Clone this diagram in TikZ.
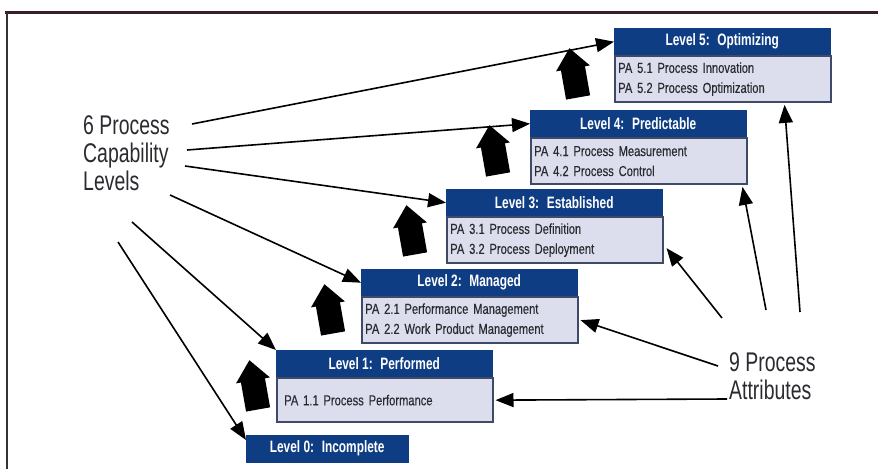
\documentclass[tikz,border=0pt]{standalone}
\usepackage{fontspec}
\setmainfont{Liberation Sans}
\newfontfamily\condfont[FakeStretch=0.72]{Liberation Sans}
\newfontfamily\bodyfont[FakeStretch=0.77,FakeBold=0.3]{Liberation Sans}
\usetikzlibrary{positioning,arrows.meta,shapes.arrows,calc}
\definecolor{cHead}{HTML}{0E3D84}
\definecolor{cBody}{HTML}{DCDEEE}
\definecolor{cEdge}{HTML}{3E4A68}
\definecolor{cFrame}{HTML}{3A1E2A}
\definecolor{cText}{HTML}{2A2A30}
\tikzset{
  level-head/.style={draw=cHead,fill=cHead,text=white,anchor=north west,
    minimum width=216pt,minimum height=27pt,inner sep=0pt,
    font=\condfont\fontsize{16.5}{18}\selectfont\bfseries},
  level-body/.style={draw=cEdge,line width=1.5pt,fill=cBody,anchor=north west,
    minimum width=216pt,minimum height=46pt,inner xsep=3pt,inner ysep=0pt,
    text width=209pt,align=left,text=cText,
    font=\bodyfont\fontsize{14.5}{20}\selectfont},
  big-label/.style={align=left,inner sep=0pt,anchor=north west,text=cText,
    font=\condfont\fontsize{27}{28}\selectfont},
  step-arrow/.style={shape=single arrow,fill=black,inner sep=12pt,
    single arrow head extend=5pt,single arrow tip angle=80,
    minimum height=50pt,rotate=100},
  arrow/.style={-{Triangle[length=18pt,width=14pt]},line width=1.6pt},
}
\begin{document}
\begin{tikzpicture}[x=1pt,y=1pt]
  \useasboundingbox (0,0) rectangle (878,469);
  \fill[white] (0,0) rectangle (878,469);
  % frame
  \draw[cFrame,line width=3pt] (5,456) -- (878,456);
  \draw[black!80,line width=2pt] (7,456) -- (7,0);

  % levels
  \node[level-head] (h5) at (614,441) {Level 5:~ Optimizing};
  \node[level-body] (b5) at (h5.south west)
    {PA 5.1 Process Innovation\\PA 5.2 Process Optimization};
  \node[level-head] (h4) at (530,359) {Level 4:~ Predictable};
  \node[level-body] (b4) at (h4.south west)
    {PA 4.1 Process Measurement\\PA 4.2 Process Control};
  \node[level-head] (h3) at (446,280) {Level 3:~ Established};
  \node[level-body] (b3) at (h3.south west)
    {PA 3.1 Process Definition\\PA 3.2 Process Deployment};
  \node[level-head] (h2) at (361,200) {Level 2:~ Managed};
  \node[level-body] (b2) at (h2.south west)
    {PA 2.1 Performance Management\\PA 2.2 Work Product Management};
  \node[level-head] (h1) at (276,119) {Level 1:~ Performed};
  \node[level-body,minimum height=44pt,inner xsep=7pt,text width=201pt] (b1)
    at (h1.south west) {PA 1.1 Process Performance};
  \node[level-head,minimum width=162pt] (h0) at (246,34) {Level 0:~ Incomplete};

  % steps between levels
  \node[step-arrow] (up1) at (255,77) {};
  \node[step-arrow] (up2) at (330,153) {};
  \node[step-arrow] (up3) at (412,232) {};
  \node[step-arrow] (up4) at (495,312) {};
  \node[step-arrow] (up5) at (575,389) {};

  % labels
  \node[big-label] (cap) at (83,354) {6 Process\\Capability\\Levels};
  \node[big-label] (attr) at (729,117) {9 Process\\Attributes};

  \coordinate (c5) at (192,345);
  \coordinate (c4) at (187,319);
  \coordinate (c3) at (185,303);
  \coordinate (c2) at (170,274);
  \coordinate (c1) at (132,247);
  \coordinate (c0) at (118,227);
  \draw[arrow] (c5) -- (h5.west);
  \draw[arrow] (c4) -- (h4.west);
  \draw[arrow] (c3) -- (h3.west);
  \draw[arrow] (c2) -- (h2.west);
  \draw[arrow] (c1) -- (h1.north west);
  \draw[arrow] (c0) -- ([yshift=-5pt]h0.north west);

  \coordinate (a1) at (727,70);
  \coordinate (a2) at (718,103);
  \coordinate (a3) at (722,151);
  \coordinate (a4) at (766,159);
  \coordinate (a5) at (800,157);
  \draw[arrow] (a1) -- ([xshift=2pt]b1.east);
  \draw[arrow] (a2) -- ([xshift=2pt]b2.east);
  \draw[arrow] (a3) -- ([xshift=3pt,yshift=-8pt]b3.east);
  \draw[arrow] (a4) -- ([xshift=-5pt,yshift=-2pt]b4.south east);
  \draw[arrow] (a5) -- ([xshift=-47pt,yshift=-2pt]b5.south east);
\end{tikzpicture}
\end{document}
